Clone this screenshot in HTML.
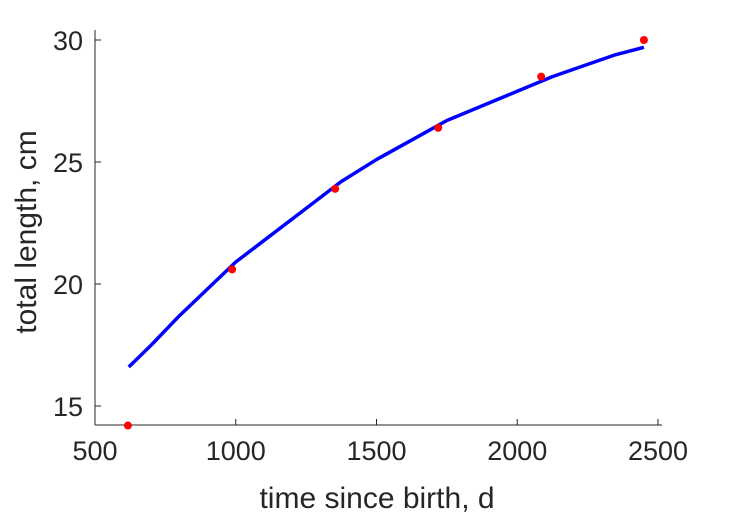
<!DOCTYPE html>
<html><head><meta charset="utf-8"><style>
body{margin:0;background:#fff;}
svg{display:block;font-family:"Liberation Sans",sans-serif;}
</style></head><body>
<svg id="c" width="729" height="521"></svg>
<script>
const obsTime=[617,987,1353,1719,2085,2450];
const obsLength=[14.2,20.6,23.9,26.4,28.5,30.0];
const fitTime=[620,700,800,900,1000,1125,1250,1375,1500,1625,1750,1875,2000,2125,2250,2350,2450];
const fitLength=[16.6,17.5,18.7,19.8,20.9,22.0,23.1,24.2,25.1,25.9,26.7,27.3,27.9,28.5,29.0,29.4,29.7];
const xTicks=[500,1000,1500,2000,2500];
const yTicks=[15,20,25,30];
const NS='http://www.w3.org/2000/svg';
const svg=document.getElementById('c');
const X=v=>95+(v-500)*(563/2000);
const Y=v=>40+(30-v)*(122/5);
function mk(t,a){const e=document.createElementNS(NS,t);for(const k in a)e.setAttribute(k,a[k]);svg.appendChild(e);return e;}
let e;
e=mk('line',{x1:95,y1:425,x2:662,y2:425,stroke:'#262626','stroke-width':1});


e=mk('line',{x1:95,y1:425,x2:95,y2:30,stroke:'#262626','stroke-width':1});


xTicks.forEach(t=>{
 e=mk('line',{x1:X(t),y1:425,x2:X(t),y2:419,stroke:'#262626'});
 
 
 e=mk('text',{x:X(t),y:460,'text-anchor':'middle','font-size':27,fill:'#262626'});
 e.textContent=t;
 
 
});
yTicks.forEach(t=>{
 e=mk('line',{x1:95,y1:Y(t),x2:101,y2:Y(t),stroke:'#262626'});
 
 
 e=mk('text',{x:83,y:Y(t)+10,'text-anchor':'end','font-size':27,fill:'#262626'});
 e.textContent=t;
 
 
});
e=mk('text',{x:377,y:508,'text-anchor':'middle','font-size':30,fill:'#262626'});
e.textContent='time since birth, d';


e=mk('text',{x:0,y:0,'text-anchor':'middle','font-size':30,fill:'#262626',transform:'translate(36,232) rotate(-90)'});
e.textContent='total length, cm';


e=mk('polyline',{points:fitTime.map((t,i)=>X(t)+','+Y(fitLength[i])).join(' '),fill:'none',stroke:'#0000ff','stroke-width':3.5,'stroke-linejoin':'round'});


obsTime.forEach((t,i)=>{
 e=mk('circle',{cx:X(t),cy:Y(obsLength[i]),r:4,fill:'#ff0000'});
 
 
});
</script>
</body></html>
